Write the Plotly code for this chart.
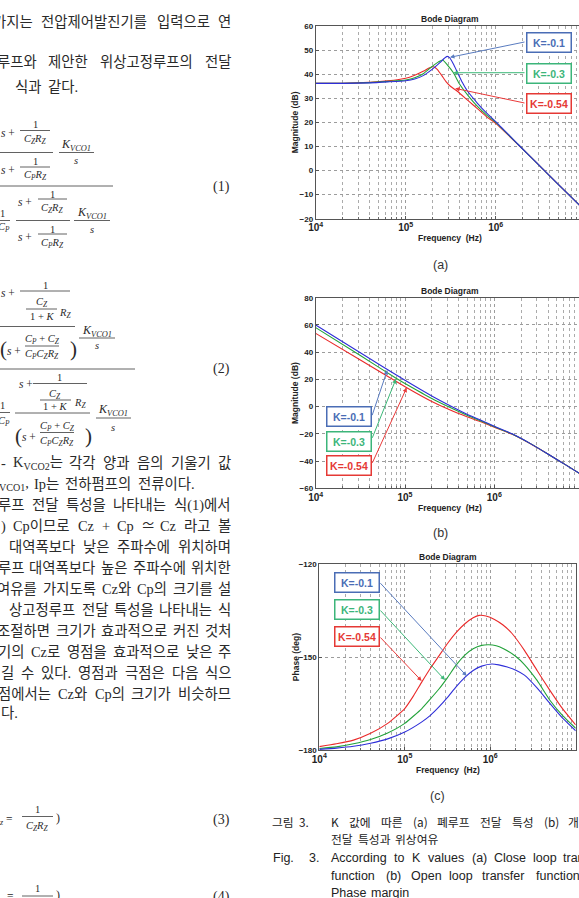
import re
import plotly.graph_objects as go

W, H = 579, 898

# ----------------------------- data -----------------------------
K_LABELS = ["K=-0.1", "K=-0.3", "K=-0.54"]

# (a) closed-loop magnitude [dB]; frequency given as log10(Hz)
A_LOGF_K01 = [4.0, 4.3, 4.6, 4.8, 5.0, 5.1, 5.2, 5.3, 5.38, 5.43, 5.46, 5.49, 5.53, 5.58, 5.63, 5.68, 5.8, 5.9, 6.0, 6.25, 6.45, 6.6, 6.8, 7.0]
A_DB_K01 = [36.2, 36.2, 36.4, 36.8, 37.3, 38.0, 39.5, 42.2, 44.8, 46.6, 47.4, 46.8, 44.2, 40.3, 36.5, 33.3, 27.8, 23.8, 20.3, 10.8, 3.4, -2.2, -9.6, -17.0]
A_LOGF_K03 = [4.0, 4.3, 4.6, 4.8, 5.0, 5.1, 5.2, 5.29, 5.36, 5.41, 5.46, 5.53, 5.6, 5.7, 5.8, 5.9, 6.0, 6.25, 6.45, 6.6, 6.8, 7.0]
A_DB_K03 = [36.2, 36.2, 36.5, 37.0, 37.6, 38.5, 40.3, 43.1, 45.0, 45.9, 44.0, 40.6, 35.8, 30.8, 26.5, 23.0, 20.0, 10.8, 3.4, -2.2, -9.6, -17.0]
A_LOGF_K054 = [4.0, 4.3, 4.6, 4.8, 5.0, 5.1, 5.2, 5.26, 5.31, 5.35, 5.4, 5.45, 5.5, 5.57, 5.7, 5.8, 5.9, 6.0, 6.25, 6.45, 6.6, 6.8, 7.0]
A_DB_K054 = [36.2, 36.2, 36.6, 37.2, 38.3, 39.6, 41.3, 42.6, 43.1, 42.0, 39.5, 36.8, 34.9, 33.0, 28.8, 25.6, 22.3, 19.6, 10.7, 3.4, -2.2, -9.6, -17.0]

# (b) open-loop magnitude [dB]
B_LOGF_K01 = [4.0, 4.5, 5.0, 5.3, 5.5, 5.7, 5.85, 6.0, 6.2, 6.4, 6.6, 6.8, 7.0]
B_DB_K01 = [59.9, 39.5, 19.3, 7.8, 0.8, -5.8, -10.0, -14.5, -20.0, -27.0, -34.8, -42.8, -51.0]
B_LOGF_K03 = [4.0, 4.5, 4.9, 5.0, 5.3, 5.5, 5.7, 5.85, 6.0, 6.2, 6.4, 6.6, 6.8, 7.0]
B_DB_K03 = [58.0, 37.6, 20.8, 17.0, 6.0, -0.5, -6.5, -10.5, -14.8, -20.1, -27.0, -34.8, -42.8, -51.0]
B_LOGF_K054 = [4.0, 4.5, 5.02, 5.3, 5.5, 5.7, 5.85, 6.0, 6.2, 6.4, 6.6, 6.8, 7.0]
B_DB_K054 = [53.8, 34.3, 13.9, 3.8, -2.3, -7.6, -11.2, -15.2, -20.3, -27.1, -34.8, -42.8, -51.0]

# (c) open-loop phase [deg]
C_LOGF_K01 = [4.0, 4.2, 4.4, 4.6, 4.8, 5.0, 5.2, 5.3, 5.4, 5.5, 5.6, 5.7, 5.8, 5.9, 6.02, 6.1, 6.2, 6.3, 6.4, 6.55, 6.7, 6.85, 7.0]
C_DEG_K01 = [-179.8, -179.4, -178.8, -177.8, -176.4, -174.2, -170.9, -168.8, -166.1, -163.0, -159.6, -156.6, -154.3, -152.9, -152.2, -152.5, -153.2, -154.2, -155.8, -160.0, -165.0, -169.8, -173.8]
C_LOGF_K03 = [4.0, 4.2, 4.4, 4.6, 4.8, 5.0, 5.2, 5.3, 5.4, 5.5, 5.6, 5.7, 5.8, 5.9, 5.98, 6.07, 6.15, 6.3, 6.4, 6.55, 6.7, 6.85, 7.0]
C_DEG_K03 = [-179.5, -179.0, -178.0, -176.6, -174.5, -171.4, -166.6, -163.5, -160.3, -156.6, -152.6, -149.4, -147.3, -146.2, -146.0, -146.3, -147.2, -149.8, -152.4, -157.6, -164.0, -169.0, -173.0]
C_LOGF_K054 = [4.0, 4.2, 4.4, 4.6, 4.8, 5.0, 5.1, 5.2, 5.3, 5.4, 5.5, 5.6, 5.7, 5.8, 5.87, 5.95, 6.05, 6.15, 6.25, 6.4, 6.55, 6.7, 6.85, 7.0]
C_DEG_K054 = [-178.9, -178.0, -176.8, -174.6, -171.4, -166.6, -162.6, -158.0, -153.6, -149.6, -145.6, -142.1, -139.3, -137.3, -136.5, -136.7, -137.8, -139.6, -142.2, -147.8, -154.4, -160.8, -166.8, -171.9]

A_YTICKS = [-20, -10, 0, 10, 20, 30, 40, 50, 60]
B_YTICKS = [-60, -40, -20, 0, 20, 40, 60, 80]
C_YTICKS = [-180, -150, -120]

# ----------------------------- styles / layout -----------------------------
CURVE_COLORS = ["#2e2ed8", "#22a23a", "#ea2a2a"]
BOX_COLORS = ["#4a6db5", "#3cb57a", "#e53935"]
ARROW_COLORS = ["#5a7cc0", "#3cb878", "#ea3a3a"]
TXT = "#2a2a2a"
BODY_FONT = "Liberation Serif, Noto Sans CJK KR"
SANS = "Liberation Sans, Arial"
HANGUL_EM = 0.94

def px(x):
    return x / W

def py(y):
    return 1 - y / H

PA = dict(l=315.7, t=26.0, b=218.7, dec=90.0, ymin=-20, ymax=60)
PB = dict(l=315.7, t=297.7, b=488.3, dec=89.3, ymin=-60, ymax=80)
PC = dict(l=319.3, t=564.3, b=750.0, dec=85.47, ymin=-180, ymax=-120)

def to_px(P, lf, v):
    X = P["l"] + (lf - 4) * P["dec"]
    Y = P["t"] + (P["ymax"] - v) * (P["b"] - P["t"]) / (P["ymax"] - P["ymin"])
    return X, Y

fig = go.Figure()

series = [
    ("x", "y", [(A_LOGF_K01, A_DB_K01), (A_LOGF_K03, A_DB_K03), (A_LOGF_K054, A_DB_K054)]),
    ("x2", "y2", [(B_LOGF_K01, B_DB_K01), (B_LOGF_K03, B_DB_K03), (B_LOGF_K054, B_DB_K054)]),
    ("x3", "y3", [(C_LOGF_K01, C_DEG_K01), (C_LOGF_K03, C_DEG_K03), (C_LOGF_K054, C_DEG_K054)]),
]
for xa, ya, lst in series:
    for i in [2, 1, 0]:
        lf, v = lst[i]
        fig.add_trace(go.Scatter(
            x=[10 ** f for f in lf], y=v, mode="lines", xaxis=xa, yaxis=ya,
            line=dict(color=CURVE_COLORS[i], width=1.1, shape="spline", smoothing=0.5),
            showlegend=False, hoverinfo="skip", name=K_LABELS[i]))

grid = dict(showgrid=True, gridcolor="#9c9c9c", griddash="dot", gridwidth=0.8)
tickfont = dict(family=SANS, size=8, color="#222", weight="bold")

def xaxis(P, right_px, rng_hi, anchor):
    return dict(type="log", domain=[px(P["l"]), px(right_px)], range=[4, rng_hi], anchor=anchor,
                automargin=False,
                showline=True, linecolor="#555", linewidth=1, mirror=True,
                ticks="inside", ticklen=3, tickcolor="#555",
                dtick=1, tick0=0, exponentformat="power", showexponent="all",
                tickfont=tickfont, zeroline=False, fixedrange=True,
                minor=dict(dtick="D1", showgrid=True, gridcolor="#ababab", griddash="dot",
                           gridwidth=0.7, ticks="inside", ticklen=2, tickcolor="#666"),
                **grid)

def yaxis(P, anchor, mirror, **kw):
    return dict(domain=[py(P["b"]), py(P["t"])], range=[P["ymin"], P["ymax"]], anchor=anchor,
                automargin=False,
                showline=True, linecolor="#555", linewidth=1, mirror=mirror,
                ticks="inside", ticklen=3, tickcolor="#555", tickfont=tickfont,
                zeroline=False, fixedrange=True, **grid, **kw)

fig.update_layout(
    width=W, height=H, margin=dict(l=0, r=0, t=0, b=0, pad=0, autoexpand=False),
    paper_bgcolor="white", plot_bgcolor="white", showlegend=False,
    xaxis=xaxis(PA, W, 4 + (W - PA["l"]) / PA["dec"], "y"),
    yaxis=yaxis(PA, "x", False, tickvals=A_YTICKS),
    xaxis2=xaxis(PB, W, 4 + (W - PB["l"]) / PB["dec"], "y2"),
    yaxis2=yaxis(PB, "x2", False, tickvals=B_YTICKS),
    xaxis3=xaxis(PC, PC["l"] + 3 * PC["dec"], 7, "y3"),
    yaxis3=yaxis(PC, "x3", True, tickvals=C_YTICKS),
)

ann = []
shapes = []

def T(x, y, text, size, family=BODY_FONT, anchor="center", color=TXT, weight="normal", angle=0):
    ann.append(dict(xref="paper", yref="paper", x=px(x), y=py(y), text=text, showarrow=False,
                    xanchor=anchor, yanchor="middle", textangle=angle,
                    font=dict(family=family, size=size, color=color, weight=weight),
                    borderpad=0))

def BAR(x0, x1, y, w=0.8):
    shapes.append(dict(type="line", xref="paper", yref="paper", x0=px(x0), x1=px(x1),
                       y0=py(y), y1=py(y), line=dict(color="#3a3a3a", width=w)))

# ---------- chart decorations ----------
for P, right in [(PA, 585.0), (PB, 583.6), (PC, 575.7)]:
    cx = (P["l"] + right) / 2
    T(cx, P["t"] - 7, "<b>Bode Diagram</b>", 8.5, SANS, color="#222")
    T(cx, P["b"] + 19.5, "<b>Frequency  (Hz)</b>", 8.5, SANS, color="#222")
T(295, (PA["t"] + PA["b"]) / 2, "<b>Magnitude (dB)</b>", 8.5, SANS, color="#222", angle=-90)
T(295, (PB["t"] + PB["b"]) / 2, "<b>Magnitude (dB)</b>", 8.5, SANS, color="#222", angle=-90)
T(296, (PC["t"] + PC["b"]) / 2, "<b>Phase (deg)</b>", 8.5, SANS, color="#222", angle=-90)
T(585.0, PA["b"] + 8, "<b>10</b>", 8, SANS, color="#222")
T(583.6, PB["b"] + 8, "<b>10</b>", 8, SANS, color="#222")

T(440, 264.5, "(a)", 12.5, SANS, color="#333")
T(440, 532.5, "(b)", 12.5, SANS, color="#333")
T(437, 796, "(c)", 12.5, SANS, color="#333")

CALLOUTS = [
    (PA, "x", "y", [(5.492, 47.0), (5.529, 40.6), (5.55, 34.1)],
     [(526, 41.7), (526, 72.7), (526, 103.3)], [(548.5, 42.5), (548.5, 73.0), (548.5, 103.7)]),
    (PB, "x2", "y2", [(4.802, 26.9), (4.899, 20.3), (5.019, 13.9)],
     [(371.7, 416.7), (371.7, 439.3), (371.7, 464.3)], [(349.2, 416.4), (349.2, 441.3), (349.2, 465.8)]),
    (PC, "x3", "y3", [(5.725, -156.1), (5.471, -157.4), (5.198, -157.7)],
     [(379, 581.7), (379, 609.0), (379, 636.0)], [(357, 582.2), (357, 609.7), (357, 636.7)]),
]
for P, xa, ya, tips, tails, boxes in CALLOUTS:
    for i in range(3):
        lf, v = tips[i]
        tx, ty = to_px(P, lf, v)
        ann.append(dict(xref=xa, yref=ya, x=lf, y=v, text="", showarrow=True,
                        ax=tails[i][0] - tx, ay=tails[i][1] - ty, axref="pixel", ayref="pixel",
                        arrowhead=2, arrowsize=0.9, arrowwidth=1, arrowcolor=ARROW_COLORS[i],
                        standoff=0, startstandoff=0))
        bx, by = boxes[i]
        ann.append(dict(xref="paper", yref="paper", x=px(bx), y=py(by), text="<b>%s</b>" % K_LABELS[i],
                        showarrow=False, xanchor="center", yanchor="middle",
                        width=40, height=15, borderpad=1.5, borderwidth=1.5,
                        bordercolor=BOX_COLORS[i], bgcolor="white",
                        font=dict(family=SANS, size=10.5, color=BOX_COLORS[i])))

# ---------- justified body text ----------
def _w(s, fs, sans=False):
    w = 0.0
    for ch in s:
        o = ord(ch)
        if 0xAC00 <= o <= 0xD7A3 or 0x3130 <= o <= 0x318F:
            w += HANGUL_EM
        elif ch == " ":
            w += 0.27
        elif ch in "il.,:;'|!":
            w += 0.26
        elif ch in "ftrI()[]-":
            w += 0.34
        elif ch in "mwMW":
            w += 0.8
        elif ch == "≃":
            w += 0.85
        elif ch in "+=":
            w += 0.57
        elif ch.isupper():
            w += 0.68
        else:
            w += 0.5 if not sans else 0.54
    return w * fs

def text_width(s, fs, sans=False):
    total = 0.0
    for p in re.split(r"(<sub>.*?</sub>)", s):
        clean = re.sub(r"<[^>]+>", "", p)
        total += (0.7 if p.startswith("<sub>") else 1.0) * _w(clean, fs, sans)
    return total

def jline(words, y, x0, x1, fs, family=BODY_FONT, sans=False, color=TXT):
    widths = [text_width(w, fs, sans) for w in words]
    if x1 is not None and len(words) > 1:
        gap = (x1 - x0 - sum(widths)) / (len(words) - 1)
    else:
        gap = 0.38 * fs
    x = x0
    for w, wd in zip(words, widths):
        T(x, y, w, fs, family, anchor="left", color=color)
        x += wd + gap

FS = 14.4
RIGHT = 231
BODY_LINES = [
    (22, -8, RIGHT, ["가지는", "전압제어발진기를", "입력으로", "연"]),
    (62, -4, RIGHT, ["루프와", "제안한", "위상고정루프의", "전달"]),
    (87, 14, None, ["식과", "같다."]),
    (463, 0, RIGHT, ["-", "K<sub>VCO2</sub>는", "각각", "양과", "음의", "기울기", "값"]),
    (484, -2, None, ["<sub>VCO1</sub>,", "Ip는", "전하펌프의", "전류이다."]),
    (505, -3, RIGHT, ["루프", "전달", "특성을", "나타내는", "식(1)에서"]),
    (526, 0, RIGHT, [")", "Cp이므로", "Cz", "+", "Cp", "≃", "Cz", "라고", "볼"]),
    (547, 8, RIGHT, ["대역폭보다", "낮은", "주파수에", "위치하며"]),
    (568, -3, RIGHT, ["루프", "대역폭보다", "높은", "주파수에", "위치한"]),
    (589, -4, RIGHT, ["여유를", "가지도록", "Cz와", "Cp의", "크기를", "설"]),
    (610, 8, RIGHT, ["상고정루프", "전달", "특성을", "나타내는", "식"]),
    (631, -4, RIGHT, ["조절하면", "크기가", "효과적으로", "커진", "것처"]),
    (652, -3, RIGHT, ["기의", "Cz로", "영점을", "효과적으로", "낮은", "주"]),
    (673, 0, RIGHT, ["길", "수", "있다.", "영점과", "극점은", "다음", "식으"]),
    (694, -3, RIGHT, ["점에서는", "Cz와", "Cp의", "크기가", "비슷하므"]),
    (713, 0, None, ["다."]),
]
for y, x0, x1, words in BODY_LINES:
    jline(words, y, x0, x1, FS)

# ---------- equations ----------
I = lambda s: "<i>%s</i>" % s
CZRZ = I("C<sub>Z</sub>R<sub>Z</sub>")
CPRZ = I("C<sub>P</sub>R<sub>Z</sub>")
KV = I("K<sub>VCO1</sub>")
SP = I("s") + " +"
CPCZ = I("C<sub>P</sub>") + " + " + I("C<sub>Z</sub>")
CPCZRZ = I("C<sub>P</sub>C<sub>Z</sub>R<sub>Z</sub>")
S1, S2, S3, SN = 11.5, 10.5, 12, 14

EQ = [
    # (1)
    ("t", 0, 133, SP, S1, "left"), ("t", 35, 125, "1", S2, "center"), ("b", 20, 50, 130.5),
    ("t", 35, 139.5, CZRZ, S2, "center"), ("b", 0, 53, 152.5),
    ("t", 0, 170, SP, S1, "left"), ("t", 35, 161.5, "1", S2, "center"), ("b", 20, 50, 167),
    ("t", 35, 176, CPRZ, S2, "center"),
    ("t", 76, 145, KV, S3, "center"), ("b", 59, 94, 152.5), ("t", 76, 160.5, I("s"), S2, "center"),
    ("b", 0, 113, 186), ("t", 222, 187, "(1)", SN, "center"),
    ("t", 2, 213, "1", S2, "center"), ("b", -4, 10, 220.5), ("t", 4, 228, I("C<sub>P</sub>"), S2, "center"),
    ("t", 17, 202, SP, S1, "left"), ("t", 52, 194.5, "1", S2, "center"), ("b", 38, 67, 199),
    ("t", 52.5, 208.5, CZRZ, S2, "center"), ("b", 16, 70, 220.5),
    ("t", 17, 237, SP, S1, "left"), ("t", 52, 229.5, "1", S2, "center"), ("b", 38, 67, 234),
    ("t", 52.5, 243, CPRZ, S2, "center"),
    ("t", 92, 213, KV, S3, "center"), ("b", 74, 110, 220.5), ("t", 92, 229, I("s"), S2, "center"),
    # (2)
    ("t", 0, 293, SP, S1, "left"), ("t", 45, 285, "1", S2, "center"), ("b", 20, 70, 291),
    ("t", 42, 302.5, I("C<sub>Z</sub>"), S2, "center"), ("b", 26, 57, 309),
    ("t", 42, 317, "1 + " + I("K"), S2, "center"), ("t", 65, 313, I("R<sub>Z</sub>"), S2, "center"),
    ("b", 0, 75, 326.5),
    ("t", -1, 349, "(", 21, "left"), ("t", 6, 351.5, SP, S1, "left"),
    ("t", 42, 340, CPCZ, S2, "center"), ("b", 25, 59, 346), ("t", 42, 354, CPCZRZ, S2, "center"),
    ("t", 69, 349, ")", 21, "left"),
    ("t", 97, 331, KV, S3, "center"), ("b", 79, 115, 338), ("t", 97, 345, I("s"), S2, "center"),
    ("b", 0, 135, 369), ("t", 222, 369, "(2)", SN, "center"),
    ("t", 2, 405, "1", S2, "center"), ("b", -4, 10, 412.5), ("t", 4, 421, I("C<sub>P</sub>"), S2, "center"),
    ("t", 18, 384, SP, S1, "left"), ("t", 60, 377, "1", S2, "center"), ("b", 33, 87, 383.5),
    ("t", 55, 394, I("C<sub>Z</sub>"), S2, "center"), ("b", 40, 71, 400),
    ("t", 55, 407, "1 + " + I("K"), S2, "center"), ("t", 80, 403.5, I("R<sub>Z</sub>"), S2, "center"),
    ("b", 15, 90, 413),
    ("t", 14, 436, "(", 21, "left"), ("t", 21, 437, SP, S1, "left"),
    ("t", 57, 426.5, CPCZ, S2, "center"), ("b", 40, 74, 432.5), ("t", 57, 441.5, CPCZRZ, S2, "center"),
    ("t", 84, 436, ")", 21, "left"),
    ("t", 113, 410, KV, S3, "center"), ("b", 96, 131, 418), ("t", 113, 427, I("s"), S2, "center"),
    # (3)
    ("t", -2, 820, "<sub>" + I("z") + "</sub> =", S1, "left"), ("t", 37, 809, "1", S2, "center"),
    ("b", 22, 53, 816.5), ("t", 37, 826.5, CZRZ, S2, "center"), ("t", 55, 818, ")", 12, "left"),
    ("t", 222, 820, "(3)", SN, "center"),
    # (4)
    ("t", -2, 897, "<sub>" + I("p") + "</sub> =", S1, "left"), ("t", 37, 888, "1", S2, "center"),
    ("b", 22, 53, 896), ("t", 55, 895, ")", 12, "left"), ("t", 222, 897, "(4)", SN, "center"),
]
for e in EQ:
    if e[0] == "t":
        T(e[1], e[2], e[3], e[4], "Liberation Serif", anchor=e[5])
    else:
        BAR(e[1], e[2], e[3])

# ---------- figure caption ----------
CAP_KO = "Noto Sans CJK KR"
CFS = 11.8
T(271, 821, "그림", CFS, CAP_KO, anchor="left", color="#222")
T(298, 821, "3.", CFS, CAP_KO, anchor="left", color="#222")
jline(["K", "값에", "따른", "(a)", "폐루프", "전달", "특성", "(b)", "개"], 821, 330, 578, CFS, CAP_KO, True, "#222")
jline(["전달", "특성과", "위상여유"], 838, 330, None, CFS, CAP_KO, True, "#222")
T(272, 858, "Fig.", 12.5, SANS, anchor="left", color="#222")
T(308, 858, "3.", 12.5, SANS, anchor="left", color="#222")
jline(["According", "to", "K", "values", "(a)", "Close", "loop", "transfer"], 858, 330, 606, 12.5, SANS, True, "#222")
jline(["function", "(b)", "Open", "loop", "transfer", "function"], 876, 330, 580, 12.5, SANS, True, "#222")
jline(["Phase", "margin"], 893, 330, None, 12.5, SANS, True, "#222")

fig.update_layout(annotations=ann, shapes=shapes)
fig.write_html("out.html", config={"displayModeBar": False},
               post_script="document.body.style.margin='0';document.body.style.overflow='hidden';")
